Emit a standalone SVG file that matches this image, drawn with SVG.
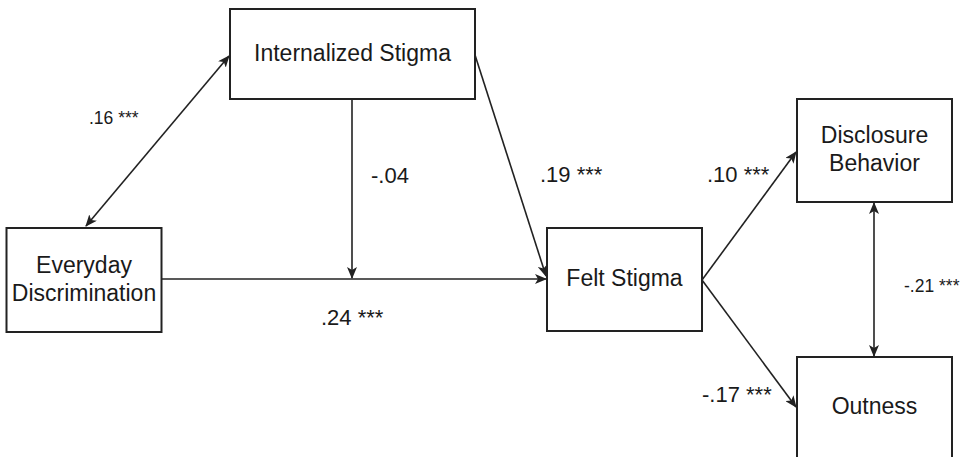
<svg xmlns="http://www.w3.org/2000/svg" width="962" height="457" viewBox="0 0 962 457">
<style>
.box{fill:#fff;stroke:#222;stroke-width:2}
.t{font-family:"Liberation Sans",Arial,sans-serif;font-size:23px;fill:#1a1a1a;text-anchor:middle}
.l{font-family:"Liberation Sans",Arial,sans-serif;font-size:22px;fill:#1a1a1a}
.s{font-family:"Liberation Sans",Arial,sans-serif;font-size:17.5px;fill:#1a1a1a}
.c{fill:none;stroke:#222;stroke-width:1.6}
</style>
<defs>
<marker id="a" viewBox="0 0 12 10" refX="11" refY="5" markerWidth="12" markerHeight="10" markerUnits="userSpaceOnUse" orient="auto-start-reverse">
<path d="M0,0 L12,5 L0,10 L3,5 Z" fill="#222"/>
</marker>
</defs>
<rect width="962" height="457" fill="#fff"/>
<g id="connectors">
<line class="c" x1="86" y1="226" x2="229" y2="56" marker-start="url(#a)" marker-end="url(#a)"/>
<line class="c" x1="352" y1="99" x2="352" y2="278" marker-end="url(#a)"/>
<line class="c" x1="162" y1="279" x2="546" y2="279" marker-end="url(#a)"/>
<line class="c" x1="475" y1="55" x2="546" y2="276" marker-end="url(#a)"/>
<line class="c" x1="702" y1="280" x2="796" y2="152" marker-end="url(#a)"/>
<line class="c" x1="702" y1="280" x2="796" y2="407" marker-end="url(#a)"/>
<line class="c" x1="874" y1="203" x2="874" y2="356" marker-start="url(#a)" marker-end="url(#a)"/>
</g>
<g id="internalized">
<rect class="box" x="230" y="9" width="245" height="90"/>
<text class="t" x="352.5" y="61">Internalized Stigma</text>
</g>
<g id="everyday">
<rect class="box" x="6.5" y="228" width="155" height="104"/>
<text class="t" x="84" y="273">Everyday</text>
<text class="t" x="84" y="300.5">Discrimination</text>
</g>
<g id="felt">
<rect class="box" x="547" y="228" width="155" height="103"/>
<text class="t" x="624.5" y="286">Felt Stigma</text>
</g>
<g id="disclosure">
<rect class="box" x="797" y="99" width="155" height="103"/>
<text class="t" x="874.5" y="143">Disclosure</text>
<text class="t" x="874.5" y="171">Behavior</text>
</g>
<g id="outness">
<rect class="box" x="797" y="357" width="155" height="110"/>
<text class="t" x="874.5" y="414">Outness</text>
</g>
<g id="labels">
<text class="s" x="89" y="124">.16 ***</text>
<text class="l" x="371" y="183">-.04</text>
<text class="l" x="321" y="325">.24 ***</text>
<text class="l" x="540" y="182">.19 ***</text>
<text class="l" x="707" y="182">.10 ***</text>
<text class="l" x="702" y="402">-.17 ***</text>
<text class="s" x="904" y="292">-.21 ***</text>
</g>
</svg>
